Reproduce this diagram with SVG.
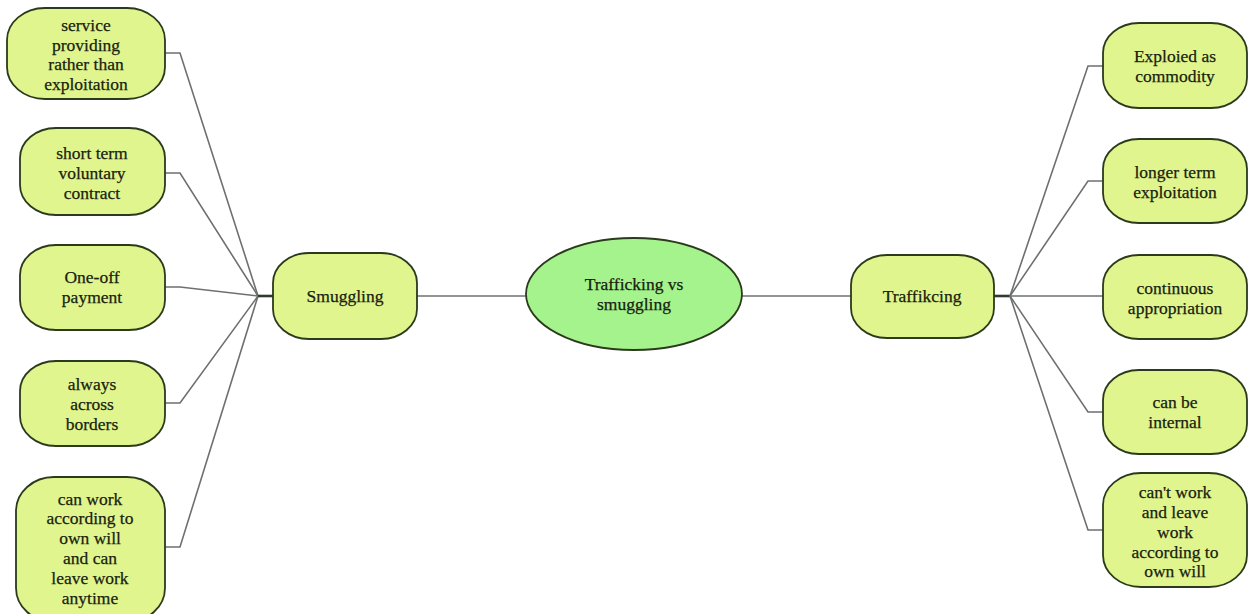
<svg xmlns="http://www.w3.org/2000/svg" width="1251" height="614" viewBox="0 0 1251 614">
<style>
.box{fill:#e1f58e;stroke:#2b3a1c;stroke-width:1.8}
.ell{fill:#a5f38d;stroke:#2b3a1c;stroke-width:1.8}
.con{fill:none;stroke:#6e7070;stroke-width:1.6}
.hub{fill:none;stroke:#2f3a30;stroke-width:2.6}
.t{font-size:17.5px;fill:#18220e;stroke:#18220e;stroke-width:0.25;text-anchor:middle}
</style>
<rect width="1251" height="614" fill="#ffffff"/>
<g id="connectors">
<polyline class="con" points="165,53 180,53 258,296"/>
<polyline class="con" points="165,173 180,173 258,296"/>
<polyline class="con" points="165,287 180,287 258,296"/>
<polyline class="con" points="165,403 180,403 258,296"/>
<polyline class="con" points="165,547 180,547 258,296"/>
<line class="hub" x1="258" y1="296" x2="273" y2="296"/>
<line class="con" x1="417" y1="296" x2="526" y2="296"/>
<line class="con" x1="742" y1="296" x2="851" y2="296"/>
<line class="hub" x1="994" y1="296" x2="1010" y2="296"/>
<polyline class="con" points="1103,66 1088,66 1010,296"/>
<polyline class="con" points="1103,181 1088,181 1010,296"/>
<polyline class="con" points="1103,296 1088,296 1010,296"/>
<polyline class="con" points="1103,412 1088,412 1010,296"/>
<polyline class="con" points="1103,530 1088,530 1010,296"/>
</g>
<g font-family="Liberation Serif, serif">
<g id="center">
<ellipse class="ell" cx="634" cy="294" rx="108" ry="56"/>
<text class="t" x="634" y="290">Trafficking vs</text>
<text class="t" x="634" y="310">smuggling</text>
</g>
<g id="smuggling">
<rect class="box" x="273" y="253" width="144" height="86" rx="36" ry="30"/>
<text class="t" x="345" y="302">Smuggling</text>
</g>
<g id="traffikcing">
<rect class="box" x="851" y="255" width="143" height="83" rx="36" ry="30"/>
<text class="t" x="922" y="302">Traffikcing</text>
</g>
<g id="s1">
<rect class="box" x="7" y="8" width="158" height="91" rx="38" ry="32"/>
<text class="t" x="86" y="31">service</text>
<text class="t" x="86" y="51">providing</text>
<text class="t" x="86" y="70">rather than</text>
<text class="t" x="86" y="90">exploitation</text>
</g>
<g id="s2">
<rect class="box" x="20" y="128" width="145" height="87" rx="36" ry="30"/>
<text class="t" x="92" y="159">short term</text>
<text class="t" x="92" y="179">voluntary</text>
<text class="t" x="92" y="199">contract</text>
</g>
<g id="s3">
<rect class="box" x="20" y="245" width="145" height="85" rx="36" ry="30"/>
<text class="t" x="92" y="283">One-off</text>
<text class="t" x="92" y="303">payment</text>
</g>
<g id="s4">
<rect class="box" x="20" y="361" width="145" height="85" rx="36" ry="30"/>
<text class="t" x="92" y="390">always</text>
<text class="t" x="92" y="410">across</text>
<text class="t" x="92" y="430">borders</text>
</g>
<g id="s5">
<rect class="box" x="16" y="477" width="149" height="145" rx="38" ry="34"/>
<text class="t" x="90" y="505">can work</text>
<text class="t" x="90" y="524">according to</text>
<text class="t" x="90" y="544">own will</text>
<text class="t" x="90" y="564">and can</text>
<text class="t" x="90" y="584">leave work</text>
<text class="t" x="90" y="604">anytime</text>
</g>
<g id="t1">
<rect class="box" x="1103" y="23" width="144" height="85" rx="36" ry="30"/>
<text class="t" x="1175" y="62">Exploied as</text>
<text class="t" x="1175" y="82">commodity</text>
</g>
<g id="t2">
<rect class="box" x="1103" y="139" width="144" height="84" rx="36" ry="30"/>
<text class="t" x="1175" y="178">longer term</text>
<text class="t" x="1175" y="198">exploitation</text>
</g>
<g id="t3">
<rect class="box" x="1103" y="255" width="144" height="84" rx="36" ry="30"/>
<text class="t" x="1175" y="294">continuous</text>
<text class="t" x="1175" y="314">appropriation</text>
</g>
<g id="t4">
<rect class="box" x="1103" y="370" width="144" height="84" rx="36" ry="30"/>
<text class="t" x="1175" y="408">can be</text>
<text class="t" x="1175" y="428">internal</text>
</g>
<g id="t5">
<rect class="box" x="1103" y="473" width="144" height="114" rx="38" ry="32"/>
<text class="t" x="1175" y="498">can't work</text>
<text class="t" x="1175" y="518">and leave</text>
<text class="t" x="1175" y="538">work</text>
<text class="t" x="1175" y="558">according to</text>
<text class="t" x="1175" y="577">own will</text>
</g>
</g>
</svg>
